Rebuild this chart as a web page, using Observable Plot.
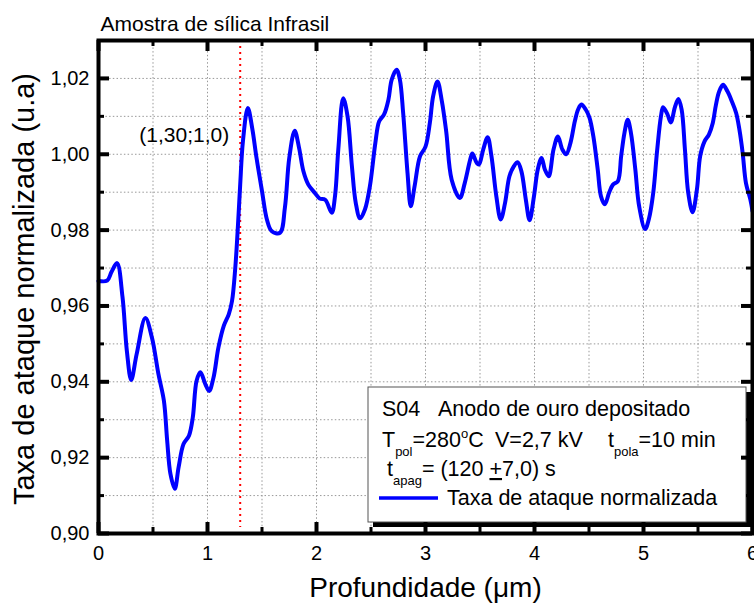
<!DOCTYPE html>
<html><head><meta charset="utf-8">
<script src="https://cdn.jsdelivr.net/npm/d3@7"></script>
<script src="https://cdn.jsdelivr.net/npm/@observablehq/plot@0.6"></script>
<style>html,body{margin:0;padding:0;background:#fff;overflow:hidden} svg{display:block}</style>
</head><body><div id="chart"></div>
<script>
const FONT = '"Liberation Sans", Arial, Helvetica, sans-serif';

// Data
const depth = [0.00,0.08,0.12,0.17,0.22,0.26,0.30,0.35,0.43,0.49,0.55,0.60,0.63,0.66,0.70,0.735,0.78,0.83,0.865,0.90,0.935,0.98,1.015,1.055,1.10,1.15,1.195,1.225,1.255,1.28,1.30,1.325,1.37,1.41,1.45,1.50,1.545,1.59,1.665,1.71,1.75,1.80,1.84,1.88,1.925,1.985,2.03,2.08,2.14,2.17,2.20,2.245,2.285,2.325,2.36,2.40,2.445,2.49,2.54,2.575,2.62,2.66,2.69,2.735,2.765,2.795,2.835,2.865,2.90,2.95,3.00,3.04,3.07,3.11,3.15,3.19,3.24,3.315,3.36,3.41,3.43,3.47,3.49,3.53,3.57,3.605,3.65,3.69,3.73,3.77,3.81,3.845,3.88,3.92,3.955,3.995,4.03,4.065,4.095,4.13,4.175,4.215,4.255,4.29,4.33,4.37,4.40,4.43,4.47,4.505,4.54,4.58,4.61,4.645,4.685,4.72,4.765,4.795,4.825,4.855,4.885,4.925,4.96,5.015,5.05,5.09,5.125,5.16,5.18,5.22,5.25,5.29,5.32,5.35,5.38,5.41,5.45,5.49,5.52,5.56,5.60,5.635,5.665,5.695,5.73,5.77,5.81,5.85,5.88,5.91,5.94,5.98,6.00];
const rate = [0.9666,0.9667,0.9690,0.9713,0.9624,0.9482,0.9405,0.9473,0.9568,0.9517,0.9420,0.9350,0.9245,0.9157,0.9118,0.9175,0.9236,0.9258,0.9306,0.9403,0.9425,0.9394,0.9376,0.9411,0.9490,0.9548,0.9578,0.9613,0.9701,0.9815,0.9920,1.0034,1.0122,1.0069,0.9990,0.9903,0.9828,0.9797,0.9793,0.9859,0.9990,1.0062,1.0017,0.9955,0.9920,0.9898,0.9883,0.9880,0.9846,0.9890,1.0013,1.0148,1.0100,0.9968,0.9872,0.9831,0.9855,0.9916,1.0030,1.0087,1.0105,1.0144,1.0197,1.0223,1.0197,1.0109,0.9951,0.9863,0.9916,0.9995,1.0020,1.0083,1.0153,1.0192,1.0140,1.0060,0.9933,0.9885,0.9924,0.9986,1.0002,0.9977,0.9973,1.0013,1.0045,0.9995,0.9889,0.9828,0.9872,0.9942,0.9968,0.9979,0.9955,0.9881,0.9826,0.9889,0.9960,0.9990,0.9960,0.9942,1.0013,1.0047,1.0013,1.0000,1.0030,1.0087,1.0118,1.0131,1.0118,1.0096,1.0047,0.9960,0.9889,0.9868,0.9899,0.9920,0.9929,0.9995,1.0056,1.0091,1.0056,0.9960,0.9863,0.9803,0.9830,0.9900,1.0010,1.0100,1.0124,1.0105,1.0084,1.0126,1.0146,1.0118,1.0013,0.9899,0.9847,0.9907,0.9995,1.0034,1.0052,1.0082,1.0131,1.0166,1.0183,1.0166,1.0140,1.0109,1.0065,1.0003,0.9924,0.9881,0.9850];

const xTicks = [0, 1, 2, 3, 4, 5, 6];
const xMinor = [0.5, 1.5, 2.5, 3.5, 4.5, 5.5];
const yTicks = [0.90, 0.92, 0.94, 0.96, 0.98, 1.00, 1.02];
const yMinor = [0.91, 0.93, 0.95, 0.97, 0.99, 1.01];
const xGrid = [0.5, 1, 1.5, 2, 2.5, 3, 3.5, 4, 4.5, 5, 5.5];
const yGrid = [0.91, 0.92, 0.93, 0.94, 0.95, 0.96, 0.97, 0.98, 0.99, 1.00, 1.01, 1.02];

const marker = [{x: 1.30, y: 1.0, label: "(1,30;1,0)"}];
const titleText = "Amostra de sílica Infrasil";
const xLabel = "Profundidade (\u03bcm)";
const yLabel = "Taxa de ataque normalizada (u.a)";
const seriesName = "Taxa de ataque normalizada";

const data = depth.map((x, i) => ({x, y: rate[i]}));

const W = 754, H = 606, ML = 98, MR = 2, MT = 40, MB = 73;
const PW = W - ML - MR, PH = H - MT - MB;
const BLUE = "#0000ff";

function legendMark(index, scales, values, dimensions) {
  const {width, height, marginRight, marginBottom} = dimensions;
  const bw = 378, bh = 135;
  const L = width - marginRight - 6 - bw;
  const T = height - marginBottom - 11 - bh;
  const g = d3.create("svg:g").attr("font-family", FONT).attr("font-size", 21.5)
    .attr("fill", "black").attr("text-anchor", "start");
  g.append("rect").attr("x", L + 5).attr("y", T + 5).attr("width", bw).attr("height", bh).attr("fill", "black");
  g.append("rect").attr("x", L).attr("y", T).attr("width", bw).attr("height", bh).attr("fill", "white").attr("stroke", "#555").attr("stroke-width", 1);
  // line 1
  const t1 = g.append("text").attr("x", L + 14).attr("y", T + 29);
  t1.append("tspan").text("S04");
  t1.append("tspan").attr("x", L + 70).text("Anodo de ouro depositado");
  // line 2
  const t2 = g.append("text").attr("x", L + 14).attr("y", T + 60);
  t2.append("tspan").text("T");
  t2.append("tspan").attr("font-size", 13).attr("dy", 9).text("pol");
  t2.append("tspan").attr("dy", -9).text("=280");
  t2.append("tspan").attr("font-size", 13).attr("dy", -9).text("o");
  t2.append("tspan").attr("dy", 9).text("C");
  t2.append("tspan").attr("x", L + 127).text("V=2,7 kV");
  t2.append("tspan").attr("x", L + 240).text("t");
  t2.append("tspan").attr("font-size", 13).attr("dy", 9).text("pola");
  t2.append("tspan").attr("dy", -9).text("=10 min");
  // line 3
  const t3 = g.append("text").attr("x", L + 19).attr("y", T + 89).style("white-space", "pre");
  t3.append("tspan").text("t");
  t3.append("tspan").attr("font-size", 13).attr("dy", 9).text("apag");
  t3.append("tspan").attr("dy", -9).text("= (120 ");
  t3.append("tspan").attr("text-decoration", "underline").text("+");
  t3.append("tspan").text("7,0) s");
  // line 4
  g.append("line").attr("x1", L + 11).attr("x2", L + 70).attr("y1", T + 111).attr("y2", T + 111)
    .attr("stroke", BLUE).attr("stroke-width", 3.5);
  g.append("text").attr("x", L + 79).attr("y", T + 118).text(seriesName);
  return g.node();
}

const chart = Plot.plot({
  width: W, height: H,
  marginLeft: ML, marginRight: MR, marginTop: MT, marginBottom: MB,
  style: {fontFamily: FONT, fontSize: "20px", color: "black", background: "white", overflow: "visible"},
  x: {domain: [0, 6], ticks: xTicks, tickFormat: d => String(d), tickSize: 0, tickPadding: 12, label: null},
  y: {domain: [0.90, 1.03], ticks: yTicks, tickFormat: d => d.toFixed(2).replace(".", ","), tickSize: 0, tickPadding: 9, label: null},
  marks: [
    Plot.ruleX(xGrid, {x: d => d, stroke: "#999", strokeWidth: 1, strokeDasharray: "1.5,2.2"}),
    Plot.ruleY(yGrid, {y: d => d, stroke: "#999", strokeWidth: 1, strokeDasharray: "1.5,2.2"}),
    Plot.ruleX(marker, {x: "x", stroke: "red", strokeWidth: 2, strokeDasharray: "2,4", insetBottom: 6}),
    Plot.line(data, {x: "x", y: "y", stroke: BLUE, strokeWidth: 4, curve: "catmull-rom"}),
    Plot.text(marker, {x: "x", y: "y", text: "label", textAnchor: "end", dx: -11, dy: -19, fontSize: 21, fill: "black"}),
    legendMark,
    // inward ticks
    Plot.tickX(xTicks, {x: d => d, insetTop: PH - 11, stroke: "black", strokeWidth: 4}),
    Plot.tickX(xMinor, {x: d => d, insetTop: PH - 6, stroke: "black", strokeWidth: 3}),
    Plot.tickX(xTicks, {x: d => d, insetBottom: PH - 11, stroke: "black", strokeWidth: 4}),
    Plot.tickX(xMinor, {x: d => d, insetBottom: PH - 6, stroke: "black", strokeWidth: 3}),
    Plot.tickY(yTicks, {y: d => d, insetRight: PW - 11, stroke: "black", strokeWidth: 4}),
    Plot.tickY(yMinor, {y: d => d, insetRight: PW - 6, stroke: "black", strokeWidth: 3}),
    Plot.tickY(yTicks, {y: d => d, insetLeft: PW - 11, stroke: "black", strokeWidth: 4}),
    Plot.tickY(yMinor, {y: d => d, insetLeft: PW - 6, stroke: "black", strokeWidth: 3}),
    Plot.frame({stroke: "black", strokeWidth: 4}),
    Plot.text([titleText], {frameAnchor: "top-left", textAnchor: "start", lineAnchor: "middle", dx: 2, dy: -16, fontSize: 21, fill: "black"}),
    Plot.text([xLabel], {frameAnchor: "bottom", textAnchor: "middle", lineAnchor: "middle", dy: 55, fontSize: 28, fill: "black"}),
    Plot.text([yLabel], {frameAnchor: "left", textAnchor: "middle", lineAnchor: "middle", rotate: -90, dx: -74, dy: 2, fontSize: 29, fill: "black"})
  ]
});
document.getElementById("chart").appendChild(chart);
</script></body></html>
